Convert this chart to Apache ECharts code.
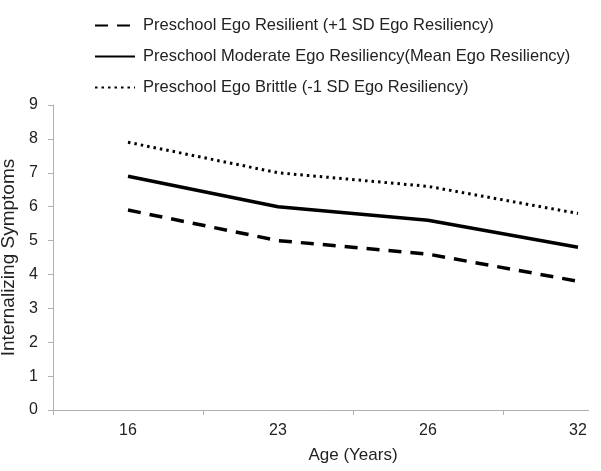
<!DOCTYPE html>
<html>
<head>
<meta charset="utf-8">
<script src="https://cdn.jsdelivr.net/npm/echarts@6/dist/echarts.min.js"></script>
<style>html,body{margin:0;padding:0;background:#fff}#c{width:601px;height:471px}</style>
</head>
<body>
<div id="c"></div>
<script>
var ages = ['16', '23', '26', '32'];
var yTicks = [0, 1, 2, 3, 4, 5, 6, 7, 8, 9];
var resilientName = 'Preschool Ego Resilient (+1 SD Ego Resiliency)';
var moderateName = 'Preschool Moderate Ego Resiliency(Mean Ego Resiliency)';
var brittleName = 'Preschool Ego Brittle (-1 SD Ego Resiliency)';
var resilient = [5.9, 5.0, 4.6, 3.8];
var moderate = [6.9, 6.0, 5.6, 4.8];
var brittle = [7.9, 7.0, 6.6, 5.8];

var font = 'Liberation Sans, Arial, sans-serif';
var axisColor = '#b0b0b0';
var chart = echarts.init(document.getElementById('c'), null, {renderer: 'canvas'});
chart.setOption({
  animation: false,
  backgroundColor: '#fff',
  textStyle: {fontFamily: font, color: '#222'},
  legend: {
    orient: 'vertical',
    left: 89,
    top: 12,
    itemWidth: 40,
    itemHeight: 14,
    itemGap: 14,
    itemStyle: {opacity: 0},
    textStyle: {fontFamily: font, fontSize: 16.5, color: '#222', padding: [0, 0, 0, 3]},
    data: [resilientName, moderateName, brittleName]
  },
  grid: {left: 53, right: -52, top: 105, bottom: 61, containLabel: false, outerBoundsMode: 'none'},
  xAxis: {
    type: 'category',
    data: ages,
    boundaryGap: true,
    name: 'Age (Years)',
    nameLocation: 'middle',
    nameGap: 37,
    nameTextStyle: {fontFamily: font, fontSize: 17, color: '#222'},
    axisLine: {lineStyle: {color: axisColor, width: 1}},
    axisTick: {show: true, length: 5, alignWithLabel: false, lineStyle: {color: axisColor}},
    axisLabel: {fontFamily: font, fontSize: 16, color: '#222', margin: 13}
  },
  yAxis: {
    type: 'value',
    min: 0,
    max: 9,
    interval: 1,
    name: 'Internalizing Symptoms',
    nameLocation: 'middle',
    nameGap: 23,
    nameTextStyle: {fontFamily: font, fontSize: 19, color: '#222'},
    axisLine: {show: true, lineStyle: {color: axisColor, width: 1}},
    axisTick: {show: true, length: 5, lineStyle: {color: axisColor}},
    axisLabel: {fontFamily: font, fontSize: 16, color: '#222', margin: 15,
      formatter: function (v) { return yTicks.indexOf(v) >= 0 ? String(v) : ''; }},
    splitLine: {show: false}
  },
  series: [
    {name: resilientName, type: 'line', data: resilient, symbol: 'none',
      lineStyle: {color: '#000', width: 3.5, type: [13, 9]}, itemStyle: {color: '#000'}},
    {name: moderateName, type: 'line', data: moderate, symbol: 'none',
      lineStyle: {color: '#000', width: 3.5, type: 'solid'}, itemStyle: {color: '#000'}},
    {name: brittleName, type: 'line', data: brittle, symbol: 'none',
      lineStyle: {color: '#000', width: 3, type: [2.5, 4]}, itemStyle: {color: '#000'}}
  ],
  graphic: [
    {type: 'rect', shape: {x: 589, y: 395, width: 20, height: 25}, style: {fill: '#fff'}, z: 100}
  ]
});
</script>
</body>
</html>
